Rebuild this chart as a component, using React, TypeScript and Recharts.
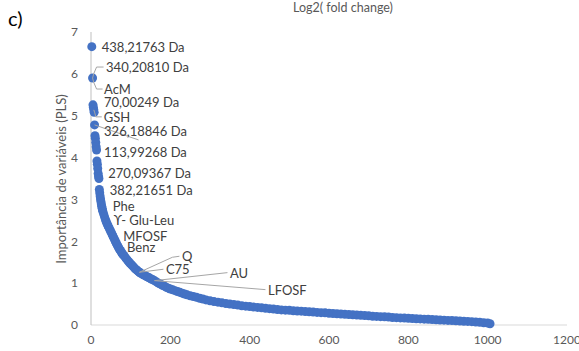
import React from 'react';
import { ScatterChart, Scatter, XAxis, YAxis } from 'recharts';

// Variable rank (x) and PLS importance (y), sorted by importance
const ranks = [
  2, 4, 5, 6, 7, 8, 9, 10, 11, 12, 13, 14, 15, 16, 17, 18, 19, 20,
  21, 22, 23, 24, 25, 26, 27, 28, 29, 30, 32, 34, 36, 38, 40, 42, 44, 46, 48, 50,
  52, 54, 56, 58, 60, 62, 64, 66, 68, 70, 72, 74, 76, 78, 80, 83, 86, 89, 92, 95,
  98, 101, 104, 107, 110, 113, 116, 119, 122, 125, 128, 132, 136, 140, 144, 148,
  152, 156, 160, 165, 170, 175, 180, 185, 190, 195, 200, 206, 212, 218, 224, 230,
  236, 242, 250, 258, 266, 274, 282, 290, 300, 310, 320, 330, 340, 350, 360, 370,
  380, 390, 400, 410, 420, 430, 440, 450, 460, 470, 480, 490, 500, 510, 520, 530,
  540, 550, 560, 570, 580, 590, 600, 610, 620, 630, 640, 650, 660, 670, 680, 690,
  700, 710, 720, 730, 740, 750, 760, 770, 780, 790, 800, 810, 820, 830, 840, 850,
  860, 870, 880, 890, 900, 910, 920, 930, 940, 950, 960, 970, 980, 990, 1000, 1006,
];

const importance = [
  6.65, 5.9, 5.26, 5.2, 5.14, 5.08, 4.78, 4.52, 4.46, 4.36, 4.26, 4.18, 3.92, 3.84, 3.74, 3.62, 3.55, 3.5,
  3.24, 3.16, 3.08, 3.01, 2.95, 2.89, 2.84, 2.79, 2.75, 2.71, 2.65, 2.59, 2.53, 2.48, 2.43, 2.39, 2.35, 2.31, 2.27, 2.23,
  2.19, 2.15, 2.11, 2.07, 2.03, 1.99, 1.95, 1.91, 1.88, 1.84, 1.81, 1.78, 1.75, 1.72, 1.69, 1.66, 1.62, 1.58, 1.55, 1.51,
  1.48, 1.45, 1.42, 1.39, 1.36, 1.33, 1.31, 1.28, 1.26, 1.24, 1.22, 1.2, 1.18, 1.16, 1.14, 1.12,
  1.1, 1.08, 1.06, 1.03, 1.0, 0.98, 0.95, 0.93, 0.9, 0.88, 0.86, 0.84, 0.82, 0.8, 0.78, 0.76,
  0.74, 0.72, 0.7, 0.68, 0.66, 0.64, 0.62, 0.6, 0.58, 0.56, 0.545, 0.53, 0.515, 0.5, 0.49, 0.475,
  0.46, 0.45, 0.44, 0.43, 0.42, 0.41, 0.4, 0.39, 0.38, 0.37, 0.36, 0.355, 0.35, 0.34, 0.335, 0.33,
  0.32, 0.315, 0.31, 0.3, 0.295, 0.29, 0.28, 0.275, 0.27, 0.26, 0.255, 0.25, 0.245, 0.24, 0.23, 0.225,
  0.22, 0.21, 0.205, 0.2, 0.195, 0.19, 0.18, 0.175, 0.17, 0.165, 0.16, 0.155, 0.15, 0.145, 0.14, 0.135,
  0.13, 0.125, 0.12, 0.115, 0.11, 0.105, 0.1, 0.095, 0.09, 0.085, 0.08, 0.07, 0.065, 0.055, 0.045, 0.03,
];

// Named variables and the rank of the point each one refers to
const annotationLabels = [
  '438,21763 Da', '340,20810 Da', 'AcM', '70,00249 Da', 'GSH', '326,18846 Da',
  '113,99268 Da', '270,09367 Da', '382,21651 Da', 'Phe', 'ϒ- Glu-Leu', 'MFOSF',
  'Benz', 'Q', 'C75', 'AU', 'LFOSF',
];
const annotationRanks = [2, 4, 4, 6, 7, 9, 14, 18, 21, 26, 36, 56, 68, 122, 122, 160, 160];

const xTicks = [0, 200, 400, 600, 800, 1000, 1200];
const yTicks = [0, 1, 2, 3, 4, 5, 6, 7];

// Label placement in pixels relative to the point: text offset and leader polyline
type LabelPlacement = { dx: number; dy: number; leader?: number[][] };
const labelPlacement: Record<string, LabelPlacement> = {
  '438,21763 Da': { dx: 10, dy: 0 },
  '340,20810 Da': { dx: 13.5, dy: -11, leader: [[1, -4], [4, -11], [11, -11]] },
  AcM: { dx: 11.5, dy: 11, leader: [[1, 4], [4, 11], [10, 11]] },
  '70,00249 Da': { dx: 10.5, dy: -5 },
  GSH: { dx: 10, dy: 7, leader: [[1, 3], [2, 7], [8, 7]] },
  '326,18846 Da': { dx: 9.5, dy: 6, leader: [[0, 0], [44, 15]] },
  '113,99268 Da': { dx: 7.5, dy: 2 },
  '270,09367 Da': { dx: 10, dy: 0 },
  '382,21651 Da': { dx: 10.5, dy: 0.5 },
  Phe: { dx: 11.5, dy: 2 },
  'ϒ- Glu-Leu': { dx: 8.5, dy: 1 },
  MFOSF: { dx: 10, dy: -0.5 },
  Benz: { dx: 9, dy: 0.5 },
  Q: { dx: 42.5, dy: -16, leader: [[0, 0], [33, -15], [40, -16]] },
  C75: { dx: 26.5, dy: -3, leader: [[0, 0], [24, -3]] },
  AU: { dx: 75.5, dy: -7.5, leader: [[0, 0], [73, -8]] },
  LFOSF: { dx: 113.5, dy: 9.5, leader: [[0, 0], [111, 9]] },
};

const points = ranks.map((r, i) => ({ rank: r, importance: importance[i] }));

const annotations = annotationLabels.map((label, i) => {
  const r = annotationRanks[i];
  const idx = ranks.indexOf(r);
  return { rank: r, importance: importance[idx], label };
});

const FONT = 'Lato, "Open Sans", sans-serif';
const BLUE = '#4472C4';

const Dot = (props: any) => {
  const { cx, cy } = props;
  if (cx == null || cy == null) return <g />;
  return <circle cx={cx} cy={cy} r={4.5} fill={BLUE} />;
};

const Annotation = (props: any) => {
  const { cx, cy, payload } = props;
  if (cx == null || cy == null) return <g />;
  const p = labelPlacement[payload.label];
  return (
    <g>
      {p.leader && (
        <polyline
          points={[[0, 0], ...p.leader].map(([x, y]) => `${cx + x},${cy + y}`).join(' ')}
          fill="none"
          stroke="#a6a6a6"
          strokeWidth={1}
        />
      )}
      <text
        x={cx + p.dx}
        y={cy + p.dy}
        dominantBaseline="central"
        fontFamily={FONT}
        fontSize={13}
        fill="#404040"
      >
        {payload.label}
      </text>
    </g>
  );
};

export default function App() {
  return (
    <div style={{ position: 'absolute', left: 0, top: 0, width: 579, height: 351, background: '#fff', fontFamily: FONT }}>
      <div style={{ position: 'absolute', left: 8, top: 6, fontSize: 20, color: '#000', lineHeight: '24px' }}>c)</div>
      <div
        style={{
          position: 'absolute',
          left: 343,
          top: 7,
          transform: 'translate(-50%, -50%)',
          fontSize: 12.5,
          color: '#595959',
          whiteSpace: 'nowrap',
        }}
      >
        Log2( fold change)
      </div>
      <div
        style={{
          position: 'absolute',
          left: 61,
          top: 179,
          transform: 'translate(-50%, -50%) rotate(-90deg)',
          fontSize: 13,
          color: '#595959',
          whiteSpace: 'nowrap',
        }}
      >
        Importância de variáveis (PLS)
      </div>
      <ScatterChart
        width={579}
        height={351}
        margin={{ top: 32, right: 12, bottom: 6, left: 51 }}
        style={{ position: 'absolute', left: 0, top: 0 }}
      >
        <XAxis
          type="number"
          dataKey="rank"
          domain={[0, 1200]}
          ticks={xTicks}
          tickLine={false}
          axisLine={{ stroke: '#d9d9d9' }}
          tick={{ fill: '#595959', fontSize: 12, fontFamily: FONT }}
          tickMargin={4}
          height={20}
          interval={0}
        />
        <YAxis
          type="number"
          dataKey="importance"
          domain={[0, 7]}
          ticks={yTicks}
          tickLine={false}
          axisLine={{ stroke: '#bfbfbf' }}
          tick={{ fill: '#595959', fontSize: 12, fontFamily: FONT }}
          tickMargin={7}
          width={40}
          interval={0}
        />
        <Scatter data={points} shape={Dot} isAnimationActive={false} />
        <Scatter data={annotations} shape={Annotation} isAnimationActive={false} />
      </ScatterChart>
    </div>
  );
}
